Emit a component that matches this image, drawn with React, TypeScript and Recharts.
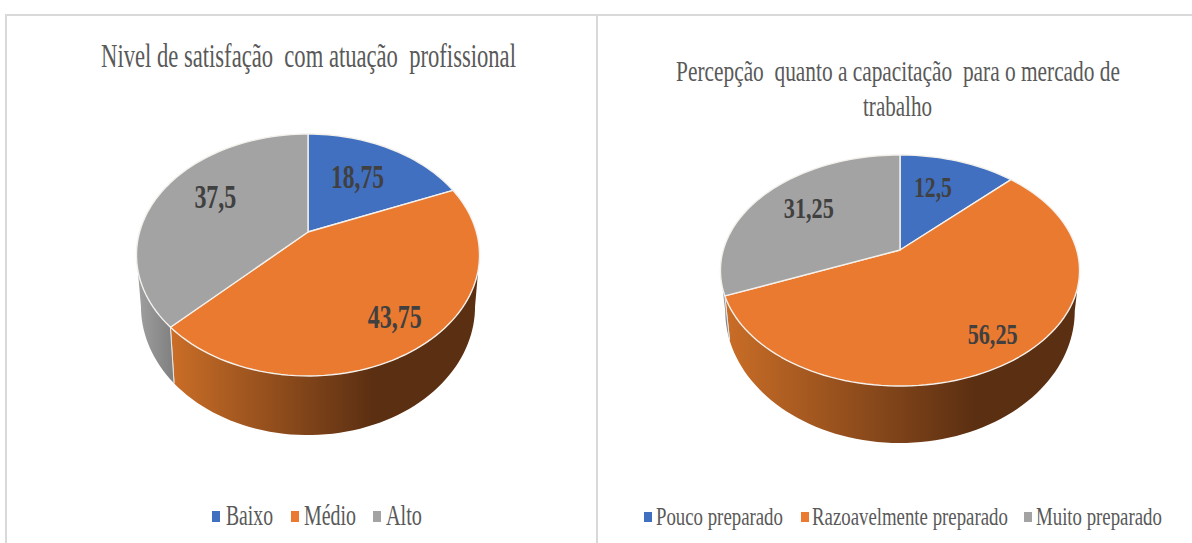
import { PieChart, Pie, Legend } from 'recharts';

const BLUE = '#4170C0';
const ORANGE = '#EA7A30';
const GRAY = '#A3A3A3';
const sliceColors = [BLUE, ORANGE, GRAY];
const TITLE_FONT = '"Liberation Serif", "Times New Roman", serif';

const satisfactionNames = ['Baixo', 'Médio', 'Alto'];
const satisfactionValues = [18.75, 43.75, 37.5];
const preparedNames = ['Pouco preparado', 'Razoavelmente preparado', 'Muito preparado'];
const preparedValues = [12.5, 56.25, 31.25];

// perspective of the tilted disc, top face and bottom face
interface View {
  k: number;
  a: number;
  b: number;
  a2: number;
  b2: number;
  bottomY: number;
  gradFrom: number;
  gradTo: number;
  id: string;
}

const leftView: View = { k: 0.19, a: 168.4, b: 116.6, a2: 164, b2: 124, bottomY: 50, gradFrom: -135, gradTo: 65, id: 'l' };
const rightView: View = { k: 0.1775, a: 176.7, b: 111.9, a2: 172, b2: 128, bottomY: 37.4, gradFrom: -173, gradTo: 75, id: 'r' };

const leftLabelNudge = [[-9.5, 6], [13, 8.5], [11, -5.5]];
const rightLabelNudge = [[-9.5, 1.5], [16, 11], [5, -1]];
const leftLabelWidth = [53, 54, 42];
const rightLabelWidth = [38, 50, 50];

function project(view: View, cx: number, cy: number, deg: number, r: number) {
  const t = (deg * Math.PI) / 180;
  const X = Math.sin(t) * r;
  const Y = Math.cos(t) * r;
  const d = 1 + view.k * Y;
  return { x: cx + (view.a * X) / d, y: cy - (view.b * Y) / d };
}

function projectBottom(view: View, cx: number, cy: number, deg: number) {
  const t = (deg * Math.PI) / 180;
  const X = Math.sin(t);
  const Y = Math.cos(t);
  const d = 1 + view.k * Y;
  return { x: cx + (view.a2 * X) / d, y: cy + view.bottomY - (view.b2 * Y) / d };
}

function sweep(from: number, to: number) {
  const out: number[] = [];
  for (let d = from; d < to; d += 2) out.push(d);
  out.push(to);
  return out;
}

const toPath = (pts: { x: number; y: number }[]) =>
  pts.map((p, i) => `${i ? 'L' : 'M'}${p.x.toFixed(2)} ${p.y.toFixed(2)}`).join(' ');

const measureCtx = document.createElement('canvas').getContext('2d');

// the reference text is squeezed sideways, so scale each string to its width
function FitText({ x, y, width, size, bold, anchor, fill, children }: any) {
  const weight = bold ? 'bold ' : '';
  measureCtx!.font = `${weight}${size}px "Liberation Serif"`;
  const natural = measureCtx!.measureText(children).width;
  return (
    <text
      transform={`translate(${x} ${y}) scale(${width / natural} 1)`}
      textAnchor={anchor}
      fontFamily={TITLE_FONT}
      fontWeight={bold ? 'bold' : 'normal'}
      fontSize={size}
      fill={fill}
      style={{ whiteSpace: 'pre' }}
    >
      {children}
    </text>
  );
}

function makeSlice(view: View) {
  return function Slice(props: any) {
    const { cx, cy, startAngle, endAngle, fill } = props;
    const from = 90 - startAngle;
    const to = 90 - endAngle;
    const limit = (Math.acos(-view.k) * 180) / Math.PI;
    const sideFrom = Math.max(from, limit);
    const sideTo = Math.min(to, 360 - limit);
    const rim = sweep(from, to).map((d) => project(view, cx, cy, d, 1));
    const hasSide = sideTo > sideFrom;
    const gradId = `side-${view.id}-${fill.slice(1)}`;
    const isGray = fill === GRAY;
    let side = '';
    let seams: number[] = [];
    if (hasSide) {
      const angles = sweep(sideFrom, sideTo);
      side =
        toPath([
          ...angles.map((d) => project(view, cx, cy, d, 1)),
          ...angles.slice().reverse().map((d) => projectBottom(view, cx, cy, d)),
        ]) + ' Z';
      seams = [from, to].filter((d) => d > limit && d < 360 - limit);
    }
    return (
      <g>
        {hasSide && (
          <>
            <defs>
              <linearGradient
                id={gradId}
                gradientUnits="userSpaceOnUse"
                x1={isGray ? cx - view.a - 5 : cx + view.gradFrom}
                x2={isGray ? cx + view.gradFrom + 2 : cx + view.gradTo}
                y1={0}
                y2={0}
              >
                <stop offset="0" stopColor={isGray ? '#A2A2A2' : '#C96D27'} />
                <stop offset="1" stopColor={isGray ? '#7E7E7E' : '#5B2F12'} />
              </linearGradient>
            </defs>
            <path d={side} fill={`url(#${gradId})`} />
            {seams.map((d) => {
              const p = project(view, cx, cy, d, 1);
              const q = projectBottom(view, cx, cy, d);
              return <line key={d} x1={p.x} y1={p.y} x2={q.x} y2={q.y} stroke="#e8e8e8" strokeWidth={1} />;
            })}
          </>
        )}
        <path d={`M${cx} ${cy} ${toPath(rim).replace('M', 'L')} Z`} fill={fill} stroke="#f4f1ec" strokeWidth={1.4} strokeLinejoin="round" />
      </g>
    );
  };
}

function makeLabel(view: View, nudge: number[][], widths: number[], fontSize: number) {
  return function SliceLabel(props: any) {
    const { cx, cy, midAngle, value, index } = props;
    const p = project(view, cx, cy, 90 - midAngle, 0.7);
    return (
      <FitText
        x={p.x + nudge[index][0]}
        y={p.y + nudge[index][1] + fontSize * 0.34}
        width={widths[index]}
        size={fontSize}
        bold
        anchor="middle"
        fill="#404040"
      >
        {String(value).replace('.', ',')}
      </FitText>
    );
  };
}

// legend item geometry: square x, text x, text width
function makeLegend(items: number[][], fontSize: number, squareH: number) {
  return function ChartLegend({ payload }: any) {
    return (
      <svg width={597} height={53} style={{ display: 'block' }}>
        {(payload || []).map((entry: any, i: number) => (
          <g key={entry.value}>
            <rect x={items[i][0]} y={35 - squareH - 3} width={8} height={squareH} fill={entry.color} />
            <FitText x={items[i][1]} y={35} width={items[i][2]} size={fontSize} anchor="start" fill="#595959">
              {entry.value}
            </FitText>
          </g>
        ))}
      </svg>
    );
  };
}

const toRows = (names: string[], values: number[]) =>
  names.map((name, i) => ({ name, value: values[i], fill: sliceColors[i] }));

const leftSlice = makeSlice(leftView);
const rightSlice = makeSlice(rightView);

export default function App() {
  return (
    <div style={{ position: 'absolute', left: 0, top: 0, width: 1192, height: 543, background: '#fff', overflow: 'hidden' }}>
      <div style={{ position: 'absolute', left: 5, top: 14, width: 1187, height: 2, background: '#d9d9d9' }} />
      <div style={{ position: 'absolute', left: 5, top: 14, width: 2, height: 529, background: '#d9d9d9' }} />
      <div style={{ position: 'absolute', left: 596, top: 14, width: 2, height: 529, background: '#d9d9d9' }} />

      <div style={{ position: 'absolute', left: 0, top: 0 }}>
        <PieChart width={597} height={543} margin={{ top: 0, right: 0, bottom: 0, left: 0 }}>
          <FitText x={308.5} y={67} width={415} size={34} anchor="middle" fill="#595959">
            Nivel de satisfação  com atuação  profissional
          </FitText>
          <Pie
            data={toRows(satisfactionNames, satisfactionValues)}
            dataKey="value"
            nameKey="name"
            cx={308}
            cy={232}
            outerRadius={168}
            startAngle={90}
            endAngle={-270}
            isAnimationActive={false}
            shape={leftSlice}
            activeShape={leftSlice}
            inactiveShape={leftSlice}
            labelLine={false}
            label={makeLabel(leftView, leftLabelNudge, leftLabelWidth, 34)}
          />
          <Legend
            itemSorter={null}
            content={makeLegend([[212, 226, 47], [291, 304, 52], [373, 386, 36]], 30, 11)}
            wrapperStyle={{ left: 0, top: 490, width: 597, height: 53 }}
          />
        </PieChart>
      </div>

      <div style={{ position: 'absolute', left: 597, top: 0 }}>
        <PieChart width={595} height={543} margin={{ top: 0, right: 0, bottom: 0, left: 0 }}>
          <FitText x={301} y={81} width={444} size={29} anchor="middle" fill="#595959">
            Percepção  quanto a capacitação  para o mercado de
          </FitText>
          <FitText x={300.5} y={116} width={69} size={29} anchor="middle" fill="#595959">
            trabalho
          </FitText>
          <Pie
            data={toRows(preparedNames, preparedValues)}
            dataKey="value"
            nameKey="name"
            cx={303}
            cy={250}
            outerRadius={176}
            startAngle={90}
            endAngle={-270}
            isAnimationActive={false}
            shape={rightSlice}
            activeShape={rightSlice}
            inactiveShape={rightSlice}
            labelLine={false}
            label={makeLabel(rightView, rightLabelNudge, rightLabelWidth, 30)}
          />
          <Legend
            itemSorter={null}
            content={makeLegend([[47, 59, 127], [204, 215, 196], [427, 439, 126]], 25, 10)}
            wrapperStyle={{ left: 0, top: 490, width: 595, height: 53 }}
          />
        </PieChart>
      </div>
    </div>
  );
}
